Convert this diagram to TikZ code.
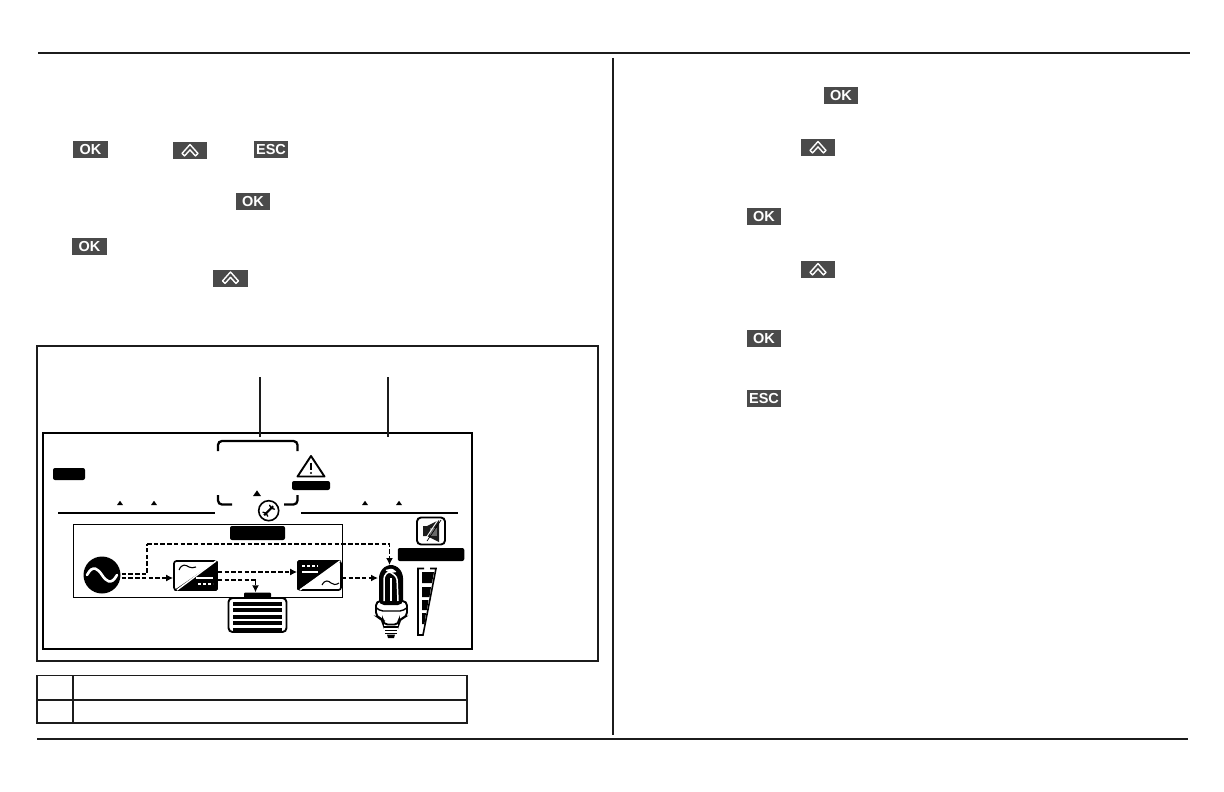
\documentclass[tikz,border=0pt]{standalone}
\usepackage{fontspec}
\setmainfont{Liberation Sans}
\usetikzlibrary{arrows.meta,calc,shapes.geometric}
\definecolor{btngray}{HTML}{4A4A4A}
\definecolor{ink}{HTML}{1C1C1C}
\tikzset{
 btn/.style={fill=btngray,text=white,font=\bfseries\fontsize{14.5}{14.5}\selectfont,inner sep=0pt,minimum width=34.5pt,minimum height=17pt},
 upbtn/.style={btn,path picture={
   \draw[white,line width=1.4pt,line join=round]
     ([shift={(-8pt,-3pt)}]path picture bounding box.center) -- ++(8pt,9pt) -- ++(8pt,-9pt) -- ++(-2.6pt,-2.4pt) -- ++(-5.4pt,6pt) -- ++(-5.4pt,-6pt) -- cycle;}},
 rule/.style={ink,line width=1.7pt},
 blackbar/.style={fill=black,rounded corners=2pt,inner sep=0pt},
 flow/.style={black,line width=1.9pt,dash pattern=on 4.5pt off 2.2pt},
 flowarrow/.style={flow,-{Latex[length=7pt,width=7pt]}},
 tick/.style={fill=black,isosceles triangle,isosceles triangle apex angle=70,shape border rotate=90,inner sep=0pt,minimum height=3.5pt,minimum width=6pt},
 lcdline/.style={black,line width=1.5pt},
 bracket/.style={black,line width=2.3pt,rounded corners=4pt},
 invbox/.style={draw=black,line width=1.7pt,rounded corners=2.5pt,minimum width=43pt,minimum height=29pt,inner sep=0pt},
}
\begin{document}
\begin{tikzpicture}[x=1pt,y=-1pt]
\useasboundingbox[fill=white] (0,0) rectangle (1224,792);
% page rules
\coordinate (rt1) at (38,53); \coordinate (rt2) at (1190,53);
\coordinate (rb1) at (37,739); \coordinate (rb2) at (1188,739);
\coordinate (dv1) at (613,58); \coordinate (dv2) at (613,735);
\draw[rule] (rt1) -- (rt2);
\draw[rule] (rb1) -- (rb2);
\draw[rule] (dv1) -- (dv2);
% buttons, left column
\node[btn] (okA) at (90.5,149.5) {OK};
\node[upbtn] (upA) at (190,150.5) {};
\node[btn] (escA) at (271,149.5) {ESC};
\node[btn] (okB) at (253,201.5) {OK};
\node[btn] (okC) at (89.5,246.5) {OK};
\node[upbtn] (upB) at (230.5,278) {};
% buttons, right column
\node[btn] (okD) at (841,95.5) {OK};
\node[upbtn] (upC) at (818,147.5) {};
\node[btn] (okE) at (764,216.5) {OK};
\node[upbtn] (upD) at (818,269.5) {};
\node[btn] (okF) at (764,338.5) {OK};
\node[btn] (escB) at (764,398.5) {ESC};
% frames
\draw[ink,line width=1.3pt] (37,346) rectangle (598,661);
\draw[black,line width=1.8pt] (43,433) rectangle (472,649);
\coordinate (ldA) at (260,377); \coordinate (ldAe) at (260,437);
\coordinate (ldB) at (388,377); \coordinate (ldBe) at (388,437);
\draw[ink,line width=1.6pt] (ldA) -- (ldAe);
\draw[ink,line width=1.6pt] (ldB) -- (ldBe);
% brackets
\draw[bracket] (218,451) -- (218,441) -- (297.5,441) -- (297.5,451);
\draw[bracket] (218,495) -- (218,504.5) -- (232,504.5);
\draw[bracket] (297.5,495) -- (297.5,504.5) -- (284,504.5);
% lcd bars
\node[blackbar,minimum width=32pt,minimum height=12pt] (barL) at (69,474) {};
\node[blackbar,minimum width=38pt,minimum height=9pt] (barW) at (311,485.5) {};
\node[blackbar,minimum width=55pt,minimum height=14pt] (barC) at (257.5,533) {};
\node[blackbar,minimum width=66.5pt,minimum height=13pt] (barM) at (431,554.5) {};
% tick marks
\node[tick] (t1) at (120,503.5) {};
\node[tick] (t2) at (154,503.5) {};
\node[tick,minimum width=8pt,minimum height=5pt] (t3) at (257,494) {};
\node[tick] (t4) at (365,503.5) {};
\node[tick] (t5) at (399,503.5) {};
\coordinate (ln1) at (58,513); \coordinate (ln2) at (215,513);
\coordinate (ln3) at (301,513); \coordinate (ln4) at (458,513);
\draw[lcdline] (ln1) -- (ln2);
\draw[lcdline] (ln3) -- (ln4);
% wrench
\node[circle,draw=black,line width=1.6pt,fill=white,minimum size=20pt,inner sep=0pt] (wrench) at (268.7,510.7) {};
\draw[black,line width=2pt] ([shift={(-4.5pt,-4.5pt)}]wrench.center) -- ([shift={(4.5pt,4.5pt)}]wrench.center);
\draw[black,line width=1.3pt,line cap=round] ([shift={(1pt,5.5pt)}]wrench.center) -- ([shift={(2.5pt,2.5pt)}]wrench.center) -- ([shift={(5.8pt,1.5pt)}]wrench.center);
\draw[black,line width=1.3pt,line cap=round] ([shift={(-1pt,-5.5pt)}]wrench.center) -- ([shift={(-2.5pt,-2.5pt)}]wrench.center) -- ([shift={(-5.8pt,-1.5pt)}]wrench.center);
% warning
\draw[black,line width=1.9pt,line join=round,fill=white] (311,456) -- (324.5,476.5) -- (297.5,476.5) -- cycle;
\draw[black,line width=1.7pt] (311,462.5) -- (311,470);
\fill[black] (311,473) circle (1.1pt);
% mute
\node[draw=black,line width=1.9pt,rounded corners=4pt,minimum width=28pt,minimum height=27pt,inner sep=0pt] (mute) at (431,531) {};
\fill[ink] (423,526) -- (427,526) -- (439,520) -- (439,542) -- (427,536) -- (423,536) -- cycle;
\draw[white,line width=.9pt] (424,541) -- (438,520);
\fill[white,opacity=.35] (430,528) rectangle (437,536);
\draw[black,line width=.7pt] (427,541) -- (441,520);
% inner rectangle
\draw[black,line width=1pt] (73.5,524) rectangle (342.5,597);
% source
\node[circle,fill=black,minimum size=37pt,inner sep=0pt] (src) at (102,575) {};
\draw[white,line width=2.6pt,line cap=round] ([xshift=-15pt]src.center) .. controls ([shift={(-9pt,11pt)}]src.center) and ([shift={(-4pt,6pt)}]src.center) .. (src.center) .. controls ([shift={(4pt,-6pt)}]src.center) and ([shift={(9pt,-11pt)}]src.center) .. ([xshift=15pt]src.center);
% inverters
\node[invbox] (invA) at (195.5,575.5) {};
\fill[black,rounded corners=1.5pt] (invA.north east) -- (invA.south east) -- (invA.south west) -- cycle;
\draw[white,line width=1.4pt] (177,590) -- (216,561);
\draw[black,line width=1.1pt] (179,570) .. controls (182,563) and (186,565) .. (189,567) .. controls (191,568) and (193,568) .. (196,567);
\draw[white,line width=1.5pt] (196,578) -- (213,578);
\draw[white,line width=1.4pt,dash pattern=on 3pt off 2pt] (198,584) -- (213,584);
\node[invbox] (invB) at (319.5,575.5) {};
\fill[black,rounded corners=1.5pt] (invB.north east) -- (invB.north west) -- (invB.south west) -- cycle;
\draw[white,line width=1.4pt] (300,590) -- (340,561);
\draw[white,line width=1.4pt,dash pattern=on 3pt off 2pt] (302,566) -- (318,566);
\draw[white,line width=1.5pt] (302,572) -- (318,572);
\draw[black,line width=1.1pt] (322,585) .. controls (325,579) and (329,581) .. (331,583) .. controls (333,585) and (336,585) .. (339,583);
% battery
\node[fill=black,minimum width=27pt,minimum height=5pt,inner sep=0pt,rounded corners=1pt] (batcap) at (257.5,595) {};
\node[draw=black,line width=1.9pt,rounded corners=4pt,fill=white,minimum width=58pt,minimum height=34pt,inner sep=0pt] (bat) at (257.5,615) {};
\foreach \yy in {601.5,608,614.5,621,627.5} \fill[black] (233,\yy) rectangle (282,\yy+4.4);
% bulb
\coordinate (bulb) at (390,565);
\coordinate (lamp) at (378,578);
\fill[white,draw=black,line width=1.9pt,rounded corners=4.5pt] (376,601) -- (376,617) -- (383,619) -- (383,624.5) -- (399,624.5) -- (399,619) -- (407,617) -- (407,601) -- cycle;
\fill[black,rounded corners=5pt] (379,605) -- (379,573) -- (386,565) -- (396,565) -- (403,573) -- (403,605) -- cycle;
\draw[black,line width=1.4pt,rounded corners=2pt] (376.5,608) -- (381,611) -- (402,611) -- (406.5,608);
\draw[white,line width=1.5pt,rounded corners=3pt] (384,601) -- (384,576) -- (389,571) -- (397,577) -- (398,601);
\draw[white,line width=1.4pt] (391,578) -- (391,601);
\fill[white,rounded corners=1pt] (385,570) -- (392,568.5) -- (397,572) -- (390,573) -- cycle;
\fill[black] (384,626) rectangle (398,628);
\draw[black,line width=1.5pt] (385,630.5) -- (397,630.5);
\draw[black,line width=1.5pt] (385,633.5) -- (397,633.5);
\fill[black] (387,634.5) -- (395,634.5) -- (394,638) -- (388,638) -- cycle;
% level wedge
\draw[black,line width=1.6pt] (424,568.5) -- (418,568.5) -- (418,635) -- (423,635) -- (436,568.5) -- (430,568.5);
\fill[black] (422,572) -- (434,572) -- (432,583) -- (422,583) -- cycle;
\fill[black] (422,587) -- (431,587) -- (429.5,597) -- (422,597) -- cycle;
\fill[black] (422,600) -- (428.5,600) -- (427,610) -- (422,610) -- cycle;
\fill[black] (422,613) -- (426,613) -- (424.5,624) -- (422,624) -- cycle;
% flows
\coordinate (tap) at (147,544);
\draw[flow] ([shift={(1pt,1pt)}]src.east) -| (tap);
\draw[flowarrow] (tap) -| ([xshift=-0.5pt]bulb);
\draw[flowarrow] ([shift={(1pt,-3pt)}]src.east) -- ([yshift=-2.5pt]invA.west);
\draw[flowarrow] ([yshift=3.5pt]invA.east) -- ([yshift=3.5pt]invB.west);
\coordinate (batturn) at (255.5,580);
\draw[flow] (invA.east |- batturn) -- (batturn);
\draw[flowarrow] (batturn) -- (batturn |- batcap.north);
\draw[flowarrow] ([yshift=-2.5pt]invB.east) -- (lamp);
% table
\draw[ink,line width=1.6pt] (37,675.5) rectangle (467,723);
\coordinate (th1) at (37,700); \coordinate (th2) at (467,700);
\coordinate (tv1) at (73,675.5); \coordinate (tv2) at (73,723);
\draw[ink,line width=1.6pt] (th1) -- (th2);
\draw[ink,line width=1.6pt] (tv1) -- (tv2);
\end{tikzpicture}
\end{document}
